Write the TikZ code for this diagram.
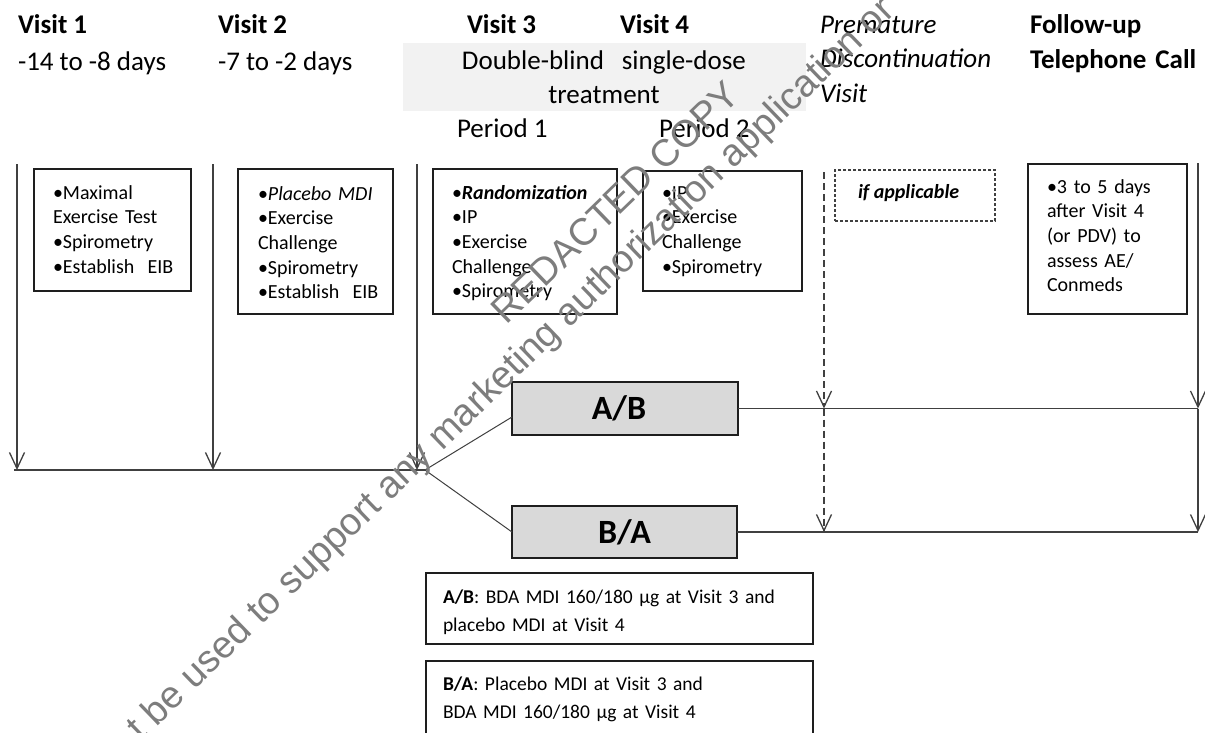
\documentclass[tikz,border=0pt]{standalone}
\usepackage{fontspec}
\setmainfont{Carlito}
\newfontfamily\wmfont{Liberation Sans}
\usetikzlibrary{arrows.meta,calc}
\definecolor{linec}{RGB}{64,64,64}
\definecolor{boxc}{RGB}{30,30,30}
\definecolor{bandc}{RGB}{242,242,242}
\definecolor{grpc}{RGB}{217,217,217}
\definecolor{wmc}{RGB}{125,125,125}
\begin{document}
\begin{tikzpicture}[x=1pt,y=-1pt,
  every node/.style={inner sep=0pt, outer sep=0pt},
  hdr/.style={anchor=base west, font=\fontsize{27}{35}\selectfont},
  hdrb/.style={anchor=base west, font=\fontsize{27}{35}\selectfont\bfseries},
  hdri/.style={anchor=base west, align=left, text width=200pt, font=\fontsize{27}{34.5}\selectfont\itshape},
  ln/.style={draw=linec, line width=1.3pt},
  arr/.style={-{Straight Barb[length=16pt,width=15pt]}},
  dashln/.style={dash pattern=on 7pt off 4pt},
  infobox/.style={draw=boxc, line width=1.3pt, anchor=north west},
  grbox/.style={draw=boxc, fill=grpc, line width=1.3pt, anchor=north west},
  boxtxt/.style={anchor=base west, text width=#1, align=left, font=\fontsize{20}{24.7}\selectfont},
  legtxt/.style={anchor=base west, text width=#1, align=left, font=\fontsize{19.5}{28}\selectfont},
  wm/.style={font=\wmfont\fontsize{38}{38}\selectfont, text=wmc, rotate=44}
]
\useasboundingbox (0,0) rectangle (1205,732);
\fill[white] (0,0) rectangle (1205,732);

% band
\node[fill=bandc, minimum width=403pt, minimum height=68pt, anchor=north west] (band) at (403,43) {};

% headers
\node[hdrb] (h1) at (18,33) {Visit 1};
\node[hdr] (d1) at (18,70) {-14 to -8 days};
\node[hdrb] (h2) at (218,33) {Visit 2};
\node[hdr] (d2) at (218,70) {-7 to -2 days};
\node[hdrb] (h3) at (467,33) {Visit 3};
\node[hdrb] (h4) at (620,33) {Visit 4};
\node[anchor=base, align=center, text width=400pt, font=\fontsize{27}{34}\selectfont] (bandt) at (604,69) {Double-blind\ \ single-dose\\treatment};
\node[hdr] (p1) at (457,137) {Period 1};
\node[hdr] (p2) at (659,137) {Period 2};
\node[hdri] (hpd) at (820,33) {Premature\\Discontinuation\\Visit};
\node[anchor=base west, align=left, text width=200pt, font=\fontsize{27}{35}\selectfont\bfseries] (hfu) at (1030,33) {Follow-up\\Telephone Call};

% info boxes
\node[infobox, minimum width=157pt, minimum height=122pt] (b1) at (34,169) {};
\node[boxtxt=140pt] (t1) at (53,199) {•Maximal\\Exercise Test\\•Spirometry\\•Establish\ \ EIB};
\node[infobox, minimum width=155pt, minimum height=145pt] (b2) at (238,169) {};
\node[boxtxt=130pt] (t2) at (258,200) {•\textit{Placebo MDI}\\•Exercise\\Challenge\\•Spirometry\\•Establish\ \ EIB};
\node[infobox, minimum width=184pt, minimum height=145pt] (b3) at (433,169) {};
\node[boxtxt=160pt] (t3) at (452,199) {•\textbf{\textit{Randomization}}\\•IP\\•Exercise\\Challenge\\•Spirometry};
\node[infobox, minimum width=159pt, minimum height=120pt] (b4) at (643,171) {};
\node[boxtxt=140pt] (t4) at (662,199) {•IP\\•Exercise\\Challenge\\•Spirometry};
\node[infobox, draw=linec, dash pattern=on 3pt off 2pt, minimum width=160pt, minimum height=51pt] (b5) at (835,170) {};
\node[anchor=base west, font=\fontsize{20}{24}\selectfont\bfseries\itshape] (t5) at (858,198) {if applicable};
\node[infobox, minimum width=159pt, minimum height=150pt] (b6) at (1028,164) {};
\node[boxtxt=140pt] (t6) at (1047,193) {•3 to 5 days\\after Visit 4\\(or PDV) to\\assess AE/\\Conmeds};

% treatment sequence boxes
\node[grbox, minimum width=226pt, minimum height=53pt] (ab) at (512,382) {};
\node[font=\fontsize{34}{34}\selectfont\bfseries] (abl) at ([xshift=-6pt]ab.center) {A/B};
\node[grbox, minimum width=225pt, minimum height=52pt] (ba) at (512,506) {};
\node[font=\fontsize{34}{34}\selectfont\bfseries] (bal) at (ba.center) {B/A};

% legend boxes
\node[infobox, minimum width=387pt, minimum height=71pt] (la) at (426,573) {};
\node[legtxt=370pt] (lat) at (443,603) {\textbf{A/B}: BDA MDI 160/180 μg at Visit 3 and\\placebo MDI at Visit 4};
\node[infobox, minimum width=387pt, minimum height=90pt] (lb) at (426,661) {};
\node[legtxt=370pt] (lbt) at (443,690) {\textbf{B/A}: Placebo MDI at Visit 3 and\\BDA MDI 160/180 μg at Visit 4};

% timelines
\coordinate (v1t) at (17,164);
\coordinate (v1b) at (17,470);
\coordinate (v2t) at (213,164);
\coordinate (v2b) at (213,470);
\coordinate (v3t) at (417,164);
\coordinate (v3b) at (417,470);
\coordinate (hl) at (14,470);
\coordinate (jn) at (425,470);
\draw[ln,arr] (v1t) -- (v1b);
\draw[ln,arr] (v2t) -- (v2b);
\draw[ln,arr] (v3t) -- (v3b);
\draw[ln] (hl) -- (jn);
\draw[ln, line width=1pt] (jn) -- ([yshift=-8.5pt]ab.west);
\draw[ln, line width=1pt] (jn) -- (ba.west);

\coordinate (fuT) at (1198,163);
\coordinate (fuA) at (fuT |- ab.east);
\coordinate (fuB) at (fuT |- ba.east);
\coordinate (pdT) at (824,172);
\coordinate (pdA) at (pdT |- ab.east);
\coordinate (pdB) at (pdT |- ba.east);
\draw[ln] (ab.east) -- (fuA);
\draw[ln] (ba.east) -- (fuB);
\draw[ln,arr] (fuT) -- (fuA);
\draw[ln,arr] (fuA) -- (fuB);
\draw[ln,dashln,arr] (pdT) -- (pdA);
\draw[ln,dashln,arr] (pdA) -- (pdB);

% watermark
\begin{scope}
\clip (0,0) rectangle (1205,732);
\node[wm] (wm1) at (615,202) {REDACTED COPY};
\node[wm] (wm2) at (512,370) {t be used to support any marketing authorization application or};
\end{scope}
\end{tikzpicture}
\end{document}
